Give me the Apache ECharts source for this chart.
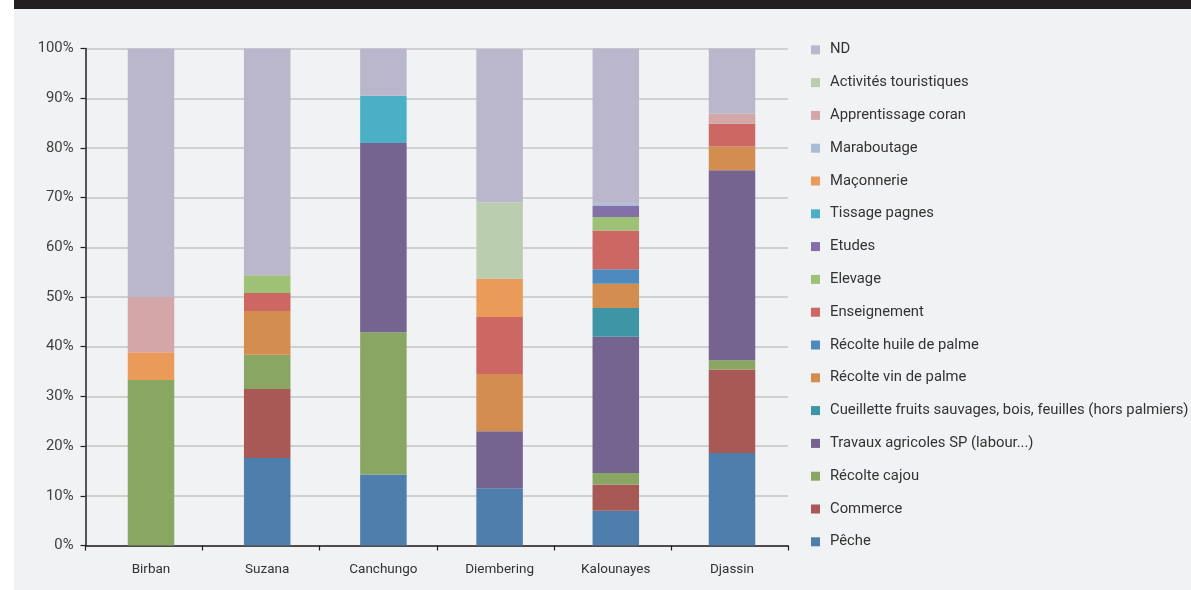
<!DOCTYPE html>
<html>
<head>
<meta charset="utf-8">
<script src="https://cdn.jsdelivr.net/npm/echarts@6/dist/echarts.min.js"></script>
<style>
html,body{margin:0;padding:0;background:#ffffff;}
#chart{width:1191px;height:590px;}
</style>
</head>
<body>
<div id="chart"></div>
<script>
const categories = ['Birban', 'Suzana', 'Canchungo', 'Diembering', 'Kalounayes', 'Djassin'];

// series from bottom of stack to top
const seriesNames = [
  'Pêche',
  'Commerce',
  'Récolte cajou',
  'Travaux agricoles SP (labour...)',
  'Cueillette fruits sauvages, bois, feuilles (hors palmiers)',
  'Récolte vin de palme',
  'Récolte huile de palme',
  'Enseignement',
  'Elevage',
  'Etudes',
  'Tissage pagnes',
  'Maçonnerie',
  'Maraboutage',
  'Apprentissage coran',
  'Activités touristiques',
  'ND'
];

const peche        = [0,    17.6, 14.3, 11.5, 7.0,  18.6];
const commerce     = [0,    13.9, 0,    0,    5.3,  16.8];
const cajou        = [33.3, 6.9,  28.6, 0,    2.3,  1.9];
const travaux      = [0,    0,    38.1, 11.5, 27.4, 38.2];
const cueillette   = [0,    0,    0,    0,    5.8,  0];
const vinPalme     = [0,    8.8,  0,    11.5, 4.9,  4.8];
const huilePalme   = [0,    0,    0,    0,    2.9,  0];
const enseignement = [0,    3.6,  0,    11.5, 7.8,  4.6];
const elevage      = [0,    3.6,  0,    0,    2.7,  0];
const etudes       = [0,    0,    0,    0,    2.2,  0];
const tissage      = [0,    0,    9.5,  0,    0,    0];
const maconnerie   = [5.6,  0,    0,    7.7,  0,    0];
const maraboutage  = [0,    0,    0,    0,    0.6,  0];
const coran        = [11.1, 0,    0,    0,    0,    2.0];
const tourisme     = [0,    0,    0,    15.4, 0,    0];
const nd           = [50.0, 45.6, 9.5,  30.8, 31.1, 13.1];

const seriesData = [peche, commerce, cajou, travaux, cueillette, vinPalme, huilePalme,
  enseignement, elevage, etudes, tissage, maconnerie, maraboutage, coran, tourisme, nd];

const colors = ['#4e7eab', '#a85956', '#89a762', '#74648f', '#3d95a5', '#d38d4f', '#4f8abe',
  '#cc6763', '#9ec275', '#8470a8', '#4bb0c6', '#ea9b59', '#a9bcd6', '#d3a7a7', '#bbcdaf', '#bab6cb'];

const yTicks = [0, 10, 20, 30, 40, 50, 60, 70, 80, 90, 100];

const FONT = "Roboto, 'Noto Sans', sans-serif";

const chart = echarts.init(document.getElementById('chart'), null, {renderer: 'canvas'});

const option = {
  backgroundColor: '#ffffff',
  animation: false,
  color: colors,
  textStyle: {fontFamily: FONT},
  graphic: [
    {type: 'rect', z: -10, silent: true, shape: {x: 14, y: 0, width: 1177, height: 9}, style: {fill: '#231f20'}},
    {type: 'rect', z: -10, silent: true, shape: {x: 14, y: 9, width: 1177, height: 581}, style: {fill: '#f1f2f4'}}
  ],
  grid: [
    {left: 85.5, right: 403, top: 48.6, bottom: 44.5, containLabel: false},
    {left: 92.9, right: 400.9, top: 48.6, bottom: 44.5, containLabel: false}
  ],
  legend: {
    orient: 'vertical',
    left: 806,
    top: 36.8,
    itemWidth: 9,
    itemHeight: 9,
    itemGap: 16.8,
    icon: 'rect',
    data: seriesNames.slice().reverse(),
    textStyle: {fontFamily: FONT, fontSize: 14.8, color: '#333333', lineHeight: 16, padding: [0, 0, 0, 5]}
  },
  xAxis: [
    {
      gridIndex: 0,
      type: 'category',
      data: categories,
      axisLine: {lineStyle: {color: '#231f20', width: 1.5}},
      axisTick: {show: true, length: 5, lineStyle: {color: '#231f20', width: 1.2}},
      axisLabel: {show: false}
    },
    {
      gridIndex: 1,
      type: 'category',
      data: categories,
      axisLine: {show: false},
      axisTick: {show: false},
      axisLabel: {color: '#333333', fontSize: 13.5, fontFamily: FONT, margin: 17}
    }
  ],
  yAxis: [
    {
      gridIndex: 0,
      type: 'value',
      min: 0,
      max: 100,
      interval: 10,
      axisLine: {show: true, lineStyle: {color: '#231f20', width: 1.5}},
      axisTick: {show: true, inside: false, length: 5, lineStyle: {color: '#231f20', width: 1.2}},
      axisLabel: {color: '#404040', fontSize: 14.8, fontFamily: FONT, margin: 12,
        formatter: v => yTicks.indexOf(v) >= 0 ? v + '%' : ''},
      splitLine: {show: true, lineStyle: {color: '#c3c4c6', width: 1.5}}
    },
    {
      gridIndex: 1,
      type: 'value',
      min: 0,
      max: 100,
      interval: 10,
      show: false
    }
  ],
  series: seriesNames.map((name, i) => ({
    name: name,
    type: 'bar',
    stack: 'total',
    xAxisIndex: 1,
    yAxisIndex: 1,
    barWidth: 46.5,
    data: seriesData[i],
    itemStyle: {color: colors[i]},
    emphasis: {disabled: true}
  }))
};
chart.setOption(option);
</script>
</body>
</html>
